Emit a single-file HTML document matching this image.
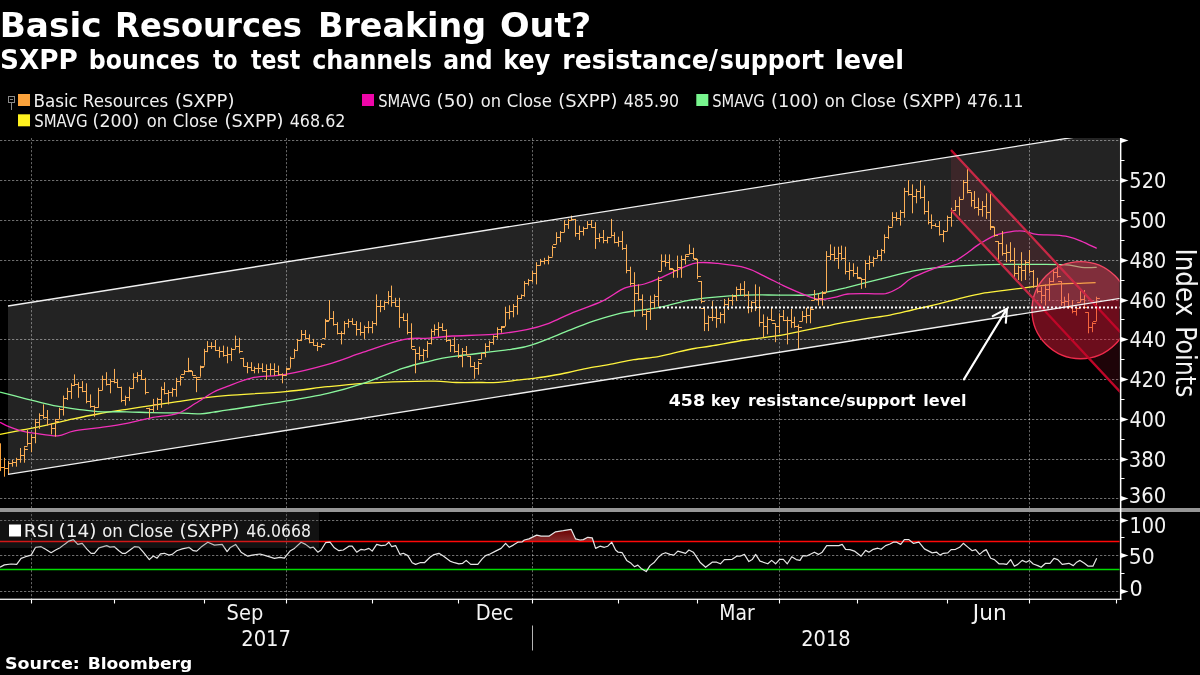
<!DOCTYPE html>
<html lang="en"><head><meta charset="utf-8"><title>Basic Resources Breaking Out?</title>
<style>html,body{margin:0;padding:0;background:#000;overflow:hidden}svg{display:block}</style></head>
<body>
<svg width="1200" height="675" viewBox="0 0 1200 675" style="display:block">
<rect width="1200" height="675" fill="#000"/>
<text y="36.8" font-size="34.3" font-weight="bold" fill="#fff"><tspan x="-0.28" textLength="101.79" lengthAdjust="spacingAndGlyphs" font-family="'DejaVu Sans','Liberation Sans',sans-serif">Basic</tspan> <tspan x="115.08" textLength="186.97" lengthAdjust="spacingAndGlyphs" font-family="'DejaVu Sans','Liberation Sans',sans-serif">Resources</tspan> <tspan x="318.00" textLength="168.11" lengthAdjust="spacingAndGlyphs" font-family="'DejaVu Sans','Liberation Sans',sans-serif">Breaking</tspan> <tspan x="499.97" textLength="91.28" lengthAdjust="spacingAndGlyphs" font-family="'DejaVu Sans','Liberation Sans',sans-serif">Out?</tspan></text>
<text y="68.9" font-size="26.6" font-weight="bold" fill="#fff"><tspan x="-0.04" textLength="77.83" lengthAdjust="spacingAndGlyphs" font-family="'DejaVu Sans','Liberation Sans',sans-serif">SXPP</tspan> <tspan x="88.75" textLength="111.18" lengthAdjust="spacingAndGlyphs" font-family="'DejaVu Sans Condensed','Liberation Sans',sans-serif">bounces</tspan> <tspan x="213.00" textLength="24.57" lengthAdjust="spacingAndGlyphs" font-family="'DejaVu Sans Condensed','Liberation Sans',sans-serif">to</tspan> <tspan x="251.00" textLength="49.20" lengthAdjust="spacingAndGlyphs" font-family="'DejaVu Sans Condensed','Liberation Sans',sans-serif">test</tspan> <tspan x="312.17" textLength="119.77" lengthAdjust="spacingAndGlyphs" font-family="'DejaVu Sans Condensed','Liberation Sans',sans-serif">channels</tspan> <tspan x="443.18" textLength="49.55" lengthAdjust="spacingAndGlyphs" font-family="'DejaVu Sans Condensed','Liberation Sans',sans-serif">and</tspan> <tspan x="503.34" textLength="46.88" lengthAdjust="spacingAndGlyphs" font-family="'DejaVu Sans Condensed','Liberation Sans',sans-serif">key</tspan> <tspan x="562.26" textLength="155.72" lengthAdjust="spacingAndGlyphs" font-family="'DejaVu Sans Condensed','Liberation Sans',sans-serif">resistance/</tspan><tspan x="719.78" textLength="104.44" lengthAdjust="spacingAndGlyphs" font-family="'DejaVu Sans Condensed','Liberation Sans',sans-serif">support</tspan> <tspan x="835.00" textLength="68.98" lengthAdjust="spacingAndGlyphs" font-family="'DejaVu Sans','Liberation Sans',sans-serif">level</tspan></text>
<g stroke="#8a8a8a" stroke-width="1" fill="none"><rect x="8.5" y="96.5" width="6" height="6"/><path d="M10,99.5H13M11.5,102.5V110"/></g>
<rect x="18" y="94" width="12" height="12" fill="#fba33c"/>
<rect x="362" y="94" width="12" height="12" fill="#ee06a8"/>
<rect x="696.3" y="94" width="12" height="12" fill="#78f58e"/>
<rect x="18" y="114.3" width="12" height="12" fill="#fff21f"/>
<text y="106.5" font-size="16.8" fill="#f0f0f0"><tspan x="33.43" textLength="44.41" lengthAdjust="spacingAndGlyphs" font-family="'DejaVu Sans','Liberation Sans',sans-serif">Basic</tspan> <tspan x="82.83" textLength="85.38" lengthAdjust="spacingAndGlyphs" font-family="'DejaVu Sans','Liberation Sans',sans-serif">Resources</tspan> <tspan x="175.00" textLength="59.40" lengthAdjust="spacingAndGlyphs" font-family="'DejaVu Sans','Liberation Sans',sans-serif">(SXPP)</tspan></text>
<text y="106.5" font-size="16.8" fill="#f0f0f0"><tspan x="378.23" textLength="52.55" lengthAdjust="spacingAndGlyphs" font-family="'DejaVu Sans Condensed','Liberation Sans',sans-serif">SMAVG</tspan> <tspan x="436.56" textLength="37.87" lengthAdjust="spacingAndGlyphs" font-family="'DejaVu Sans','Liberation Sans',sans-serif">(50)</tspan> <tspan x="480.83" textLength="20.33" lengthAdjust="spacingAndGlyphs" font-family="'DejaVu Sans','Liberation Sans',sans-serif">on</tspan> <tspan x="506.82" textLength="45.05" lengthAdjust="spacingAndGlyphs" font-family="'DejaVu Sans','Liberation Sans',sans-serif">Close</tspan> <tspan x="558.20" textLength="59.19" lengthAdjust="spacingAndGlyphs" font-family="'DejaVu Sans','Liberation Sans',sans-serif">(SXPP)</tspan> <tspan x="623.85" textLength="55.14" lengthAdjust="spacingAndGlyphs" font-family="'DejaVu Sans Condensed','Liberation Sans',sans-serif">485.90</tspan></text>
<text y="106.5" font-size="16.8" fill="#f0f0f0"><tspan x="712.23" textLength="52.55" lengthAdjust="spacingAndGlyphs" font-family="'DejaVu Sans Condensed','Liberation Sans',sans-serif">SMAVG</tspan> <tspan x="771.01" textLength="47.77" lengthAdjust="spacingAndGlyphs" font-family="'DejaVu Sans','Liberation Sans',sans-serif">(100)</tspan> <tspan x="824.83" textLength="20.33" lengthAdjust="spacingAndGlyphs" font-family="'DejaVu Sans','Liberation Sans',sans-serif">on</tspan> <tspan x="850.82" textLength="45.05" lengthAdjust="spacingAndGlyphs" font-family="'DejaVu Sans','Liberation Sans',sans-serif">Close</tspan> <tspan x="902.20" textLength="59.19" lengthAdjust="spacingAndGlyphs" font-family="'DejaVu Sans','Liberation Sans',sans-serif">(SXPP)</tspan> <tspan x="967.25" textLength="56.19" lengthAdjust="spacingAndGlyphs" font-family="'DejaVu Sans','Liberation Sans',sans-serif">476.11</tspan></text>
<text y="126.5" font-size="16.8" fill="#f0f0f0"><tspan x="34.22" textLength="53.38" lengthAdjust="spacingAndGlyphs" font-family="'DejaVu Sans Condensed','Liberation Sans',sans-serif">SMAVG</tspan> <tspan x="92.64" textLength="46.71" lengthAdjust="spacingAndGlyphs" font-family="'DejaVu Sans','Liberation Sans',sans-serif">(200)</tspan> <tspan x="146.83" textLength="20.33" lengthAdjust="spacingAndGlyphs" font-family="'DejaVu Sans','Liberation Sans',sans-serif">on</tspan> <tspan x="172.82" textLength="45.05" lengthAdjust="spacingAndGlyphs" font-family="'DejaVu Sans','Liberation Sans',sans-serif">Close</tspan> <tspan x="224.61" textLength="58.77" lengthAdjust="spacingAndGlyphs" font-family="'DejaVu Sans','Liberation Sans',sans-serif">(SXPP)</tspan> <tspan x="289.65" textLength="55.77" lengthAdjust="spacingAndGlyphs" font-family="'DejaVu Sans','Liberation Sans',sans-serif">468.62</tspan></text>
<clipPath id="cm"><rect x="0" y="138" width="1119.5" height="370"/></clipPath>
<g stroke="#fff" stroke-opacity="0.43" stroke-width="1" stroke-dasharray="2.3 1.7" fill="none">
<path d="M0,140.5H1120"/>
<path d="M0,180.5H1120"/>
<path d="M0,220.5H1120"/>
<path d="M0,260.5H1120"/>
<path d="M0,300.5H1120"/>
<path d="M0,339.5H1120"/>
<path d="M0,379.5H1120"/>
<path d="M0,419.5H1120"/>
<path d="M0,459.5H1120"/>
<path d="M0,498.5H1120"/>
<path d="M0,520.5H1120"/>
<path d="M0,555.5H1120"/>
<path d="M0,591.5H1120"/>
<path d="M31.5,138V599" stroke-opacity="0.38"/>
<path d="M286.5,138V599" stroke-opacity="0.38"/>
<path d="M532.5,138V599" stroke-opacity="0.38"/>
<path d="M779.5,138V599" stroke-opacity="0.38"/>
<path d="M1029.5,138V599" stroke-opacity="0.38"/>
</g>
<g clip-path="url(#cm)" fill="none">
<mask id="mb" maskUnits="userSpaceOnUse" x="900" y="100" width="300" height="450"><rect x="900" y="100" width="300" height="450" fill="#fff"/><circle cx="1080.6" cy="310.2" r="48.6" fill="#000"/></mask>
<path d="M951.0,150.0 L1200.0,417.8 L1200.0,477.8 L951.0,210.0Z" fill="#e01c3c" fill-opacity="0.135" mask="url(#mb)"/>
<path d="M0.0,434.4 C3.7,433.7 14.8,431.5 22.2,430.0 C29.6,428.5 35.9,427.4 44.4,425.6 C53.0,423.7 64.4,420.8 73.3,418.9 C82.2,417.0 88.9,415.6 97.8,414.0 C106.7,412.4 117.8,410.7 126.7,409.3 C135.6,407.9 142.6,406.9 151.1,405.6 C159.6,404.3 169.6,402.7 177.8,401.6 C185.9,400.4 191.6,399.5 200.0,398.4 C208.4,397.4 214.1,396.5 228.3,395.3 C242.6,394.2 269.0,393.0 285.6,391.6 C302.1,390.1 314.8,388.0 327.8,386.7 C340.7,385.3 350.7,384.2 363.3,383.3 C375.9,382.5 391.4,381.9 403.3,381.6 C415.3,381.2 426.2,381.1 435.0,381.2 C443.8,381.4 449.3,382.3 456.3,382.5 C463.4,382.7 470.3,382.6 477.3,382.5 C484.3,382.5 491.7,382.7 498.3,382.3 C504.9,381.9 511.2,380.9 517.0,380.2 C522.8,379.5 527.9,379.0 533.3,378.3 C538.8,377.6 543.8,377.0 549.7,376.0 C555.5,375.0 561.7,373.9 568.3,372.5 C574.9,371.1 581.9,369.3 589.3,367.8 C596.7,366.4 605.3,365.2 612.7,363.9 C620.0,362.5 626.3,360.8 633.7,359.7 C641.0,358.5 650.4,358.0 657.0,356.9 C663.6,355.8 667.1,354.5 673.3,353.1 C679.5,351.7 688.0,349.6 694.3,348.5 C700.6,347.3 702.4,347.5 710.9,346.0 C719.5,344.6 734.2,341.7 745.6,340.0 C756.9,338.3 769.6,337.0 778.9,335.6 C788.1,334.1 793.7,332.6 801.1,331.1 C808.5,329.6 815.9,328.1 823.3,326.7 C830.7,325.2 838.1,323.6 845.6,322.2 C853.0,320.9 860.4,319.6 867.8,318.4 C875.2,317.3 882.6,316.5 890.0,315.1 C897.4,313.7 905.6,311.5 912.2,310.0 C918.9,308.5 922.0,307.9 930.0,306.0 C938.0,304.1 951.3,300.6 960.0,298.4 C968.7,296.3 974.8,294.7 982.2,293.3 C989.6,292.0 995.9,291.6 1004.4,290.4 C1013.0,289.3 1024.1,287.8 1033.3,286.7 C1042.6,285.6 1052.2,284.3 1060.0,283.8 C1067.8,283.2 1074.1,283.5 1080.0,283.3 C1085.9,283.1 1093.0,282.8 1095.6,282.7" stroke="#fff21f" stroke-width="1.3" stroke-linejoin="round"/>
<path d="M0.0,392.2 C3.7,393.1 14.8,395.9 22.2,397.8 C29.6,399.6 38.1,401.9 44.4,403.3 C50.7,404.8 54.4,405.7 60.0,406.7 C65.6,407.7 71.5,408.5 77.8,409.3 C84.1,410.1 89.6,411.1 97.8,411.6 C105.9,412.0 117.8,411.6 126.7,411.8 C135.6,412.0 142.6,412.5 151.1,412.7 C159.6,412.9 169.6,412.7 177.8,412.9 C185.9,413.1 194.1,413.9 200.0,413.8 C205.9,413.7 208.6,412.9 213.3,412.2 C218.1,411.6 216.3,411.7 228.3,409.9 C240.4,408.0 269.0,403.9 285.6,401.1 C302.1,398.4 314.8,396.3 327.8,393.3 C340.7,390.4 350.7,387.5 363.3,383.3 C375.9,379.1 392.2,371.9 403.3,368.2 C414.4,364.5 421.9,363.0 430.0,361.1 C438.1,359.2 438.7,358.6 452.2,356.7 C465.7,354.7 497.6,351.4 511.1,349.3 C524.6,347.3 523.3,347.7 533.3,344.4 C543.3,341.1 561.1,333.4 571.1,329.6 C581.1,325.7 585.2,323.8 593.3,321.1 C601.5,318.4 611.5,315.3 620.0,313.3 C628.5,311.4 637.8,310.6 644.4,309.6 C651.1,308.6 653.1,308.8 660.0,307.3 C666.9,305.9 677.4,302.4 686.1,300.8 C694.8,299.1 702.3,298.3 712.2,297.3 C722.1,296.4 734.4,295.5 745.6,295.1 C756.7,294.7 768.5,295.1 778.9,295.1 C789.3,295.1 800.4,295.5 807.8,295.1 C815.2,294.7 817.0,293.9 823.3,292.7 C829.6,291.4 838.1,289.5 845.6,287.8 C853.0,286.0 860.4,284.1 867.8,282.2 C875.2,280.4 882.6,278.5 890.0,276.7 C897.4,274.8 904.8,272.6 912.2,271.1 C919.6,269.6 927.0,268.6 934.4,267.8 C941.9,267.0 949.3,266.7 956.7,266.2 C964.1,265.7 971.5,265.2 978.9,264.9 C986.3,264.6 993.0,264.5 1001.1,264.4 C1009.3,264.4 1017.4,264.4 1027.8,264.4 C1038.1,264.5 1053.9,264.1 1063.3,264.7 C1072.8,265.2 1078.9,267.1 1084.4,267.6 C1090.0,268.0 1094.6,267.4 1096.7,267.3" stroke="#78f58e" stroke-width="1.3" stroke-linejoin="round"/>
<path d="M0.0,422.2 C1.5,423.0 5.2,425.2 8.9,426.7 C12.6,428.1 17.8,430.0 22.2,431.1 C26.7,432.2 29.6,432.6 35.6,433.3 C41.5,434.1 51.5,436.1 57.8,435.8 C64.1,435.4 66.7,432.4 73.3,431.1 C80.0,429.8 88.9,429.1 97.8,427.8 C106.7,426.5 117.8,425.0 126.7,423.3 C135.6,421.7 142.6,419.4 151.1,417.8 C159.6,416.1 170.4,415.7 177.8,413.3 C185.2,410.9 189.6,406.9 195.6,403.3 C201.5,399.8 208.1,395.0 213.3,392.2 C218.5,389.4 220.2,389.1 226.7,386.7 C233.1,384.3 242.4,379.8 252.2,377.8 C262.0,375.7 273.0,376.7 285.6,374.4 C298.1,372.2 314.8,368.1 327.8,364.4 C340.7,360.7 350.7,356.4 363.3,352.2 C375.9,348.1 392.2,341.9 403.3,339.6 C414.4,337.2 421.9,338.8 430.0,338.2 C438.1,337.6 441.7,336.6 452.2,336.0 C462.8,335.4 480.9,335.5 493.3,334.4 C505.7,333.4 517.4,331.4 526.7,329.6 C535.9,327.7 541.5,326.0 548.9,323.3 C556.3,320.6 562.2,317.0 571.1,313.3 C580.0,309.6 593.3,305.3 602.2,301.1 C611.1,296.9 617.4,291.1 624.4,288.2 C631.5,285.4 638.5,285.7 644.4,284.0 C650.4,282.3 653.1,281.2 660.0,278.2 C666.9,275.2 679.6,268.7 686.1,266.1 C692.6,263.5 693.8,263.1 698.9,262.7 C704.0,262.2 708.9,262.5 716.7,263.3 C724.4,264.2 737.8,265.7 745.6,267.8 C753.3,269.8 757.0,272.6 763.3,275.6 C769.6,278.5 777.0,282.6 783.3,285.6 C789.6,288.5 795.2,291.0 801.1,293.3 C807.0,295.6 813.3,298.8 818.9,299.4 C824.4,300.1 829.6,298.2 834.4,297.3 C839.3,296.4 842.2,294.6 847.8,294.0 C853.3,293.4 861.5,293.6 867.8,293.6 C874.1,293.5 880.4,294.5 885.6,293.6 C890.7,292.6 894.4,290.4 898.9,287.8 C903.3,285.1 906.3,281.0 912.2,277.8 C918.1,274.6 927.0,271.4 934.4,268.4 C941.9,265.5 949.3,264.0 956.7,260.0 C964.1,256.0 972.6,248.5 978.9,244.4 C985.2,240.4 989.3,237.7 994.4,235.6 C999.6,233.4 1005.2,232.5 1010.0,231.8 C1014.8,231.0 1018.9,230.7 1023.3,231.1 C1027.8,231.6 1031.5,233.8 1036.7,234.4 C1041.9,235.1 1049.3,234.7 1054.4,235.1 C1059.6,235.5 1063.3,235.7 1067.8,236.7 C1072.2,237.7 1076.3,239.1 1081.1,241.1 C1085.9,243.1 1094.1,247.2 1096.7,248.4" stroke="#ef0fae" stroke-width="1.3" stroke-linejoin="round"/>
<path d="M0.5,443.3V471.1M-2.9,457.5H0.5M0.5,467.5H3.9M4.5,457.8V476.7M1.1,467.5H4.5M4.5,468.5H7.9M8.5,461.1V474.4M5.1,468.5H8.5M8.5,463.5H11.9M12.5,460.0V466.7M9.1,463.5H12.5M12.5,462.5H15.9M16.5,457.8V466.7M13.1,462.5H16.5M16.5,459.5H19.9M20.5,448.0V462.7M17.1,459.5H20.5M20.5,455.5H23.9M24.5,447.3V462.7M21.1,455.5H24.5M24.5,449.5H27.9M27.5,430.0V445.6M24.1,446.5H27.5M27.5,443.5H30.9M31.5,434.4V452.2M28.1,443.5H31.5M31.5,437.5H34.9M35.5,418.9V443.3M32.1,437.5H35.5M35.5,422.5H38.9M39.5,413.3V428.9M36.1,422.5H39.5M39.5,415.5H42.9M43.5,404.4V418.9M40.1,415.5H43.5M43.5,417.5H46.9M47.5,410.0V425.6M44.1,417.5H47.5M47.5,424.5H50.9M51.5,423.3V434.4M48.1,424.5H51.5M51.5,428.5H54.9M55.5,418.9V436.7M52.1,428.5H55.5M55.5,421.5H58.9M59.5,407.8V418.9M56.1,419.5H59.5M59.5,409.5H62.9M63.5,395.6V415.6M60.1,409.5H63.5M63.5,398.5H66.9M67.5,387.8V400.0M64.1,398.5H67.5M67.5,391.5H70.9M71.5,383.3V398.9M68.1,391.5H71.5M71.5,385.5H74.9M74.5,374.4V385.6M71.1,385.5H74.5M74.5,384.5H77.9M78.5,382.2V397.8M75.1,384.5H78.5M78.5,387.5H81.9M82.5,381.1V392.2M79.1,387.5H82.5M82.5,391.5H85.9M86.5,383.3V403.3M83.1,391.5H86.5M86.5,401.5H89.9M90.5,394.4V407.8M87.1,401.5H90.5M90.5,406.5H93.9M94.5,405.6V416.7M91.1,406.5H94.5M94.5,407.5H97.9M98.5,387.8V407.8M95.1,407.5H98.5M98.5,390.5H101.9M102.5,375.6V390.0M99.1,390.5H102.5M102.5,379.5H105.9M106.5,372.2V385.6M103.1,379.5H106.5M106.5,384.5H109.9M110.5,378.9V393.3M107.1,384.5H110.5M110.5,381.5H113.9M114.5,368.9V383.3M111.1,381.5H114.5M114.5,382.5H117.9M117.5,378.9V387.8M114.1,382.5H117.5M117.5,387.5H120.9M121.5,386.7V402.2M118.1,387.5H121.5M121.5,400.5H124.9M125.5,395.6V405.6M122.1,400.5H125.5M125.5,397.5H128.9M129.5,386.7V401.1M126.1,397.5H129.5M129.5,388.5H132.9M133.5,373.3V388.9M130.1,388.5H133.5M133.5,377.5H136.9M137.5,372.2V382.2M134.1,377.5H137.5M137.5,375.5H140.9M141.5,370.0V380.0M138.1,375.5H141.5M141.5,379.5H144.9M145.5,377.8V394.4M142.1,379.5H145.5M145.5,392.5H148.9M149.5,407.8V417.8M146.1,408.5H149.5M149.5,409.5H152.9M153.5,398.9V412.2M150.1,409.5H153.5M153.5,404.5H156.9M157.5,397.8V410.0M154.1,404.5H157.5M157.5,399.5H160.9M161.5,386.7V407.8M158.1,399.5H161.5M161.5,389.5H164.9M164.5,382.2V394.4M161.1,389.5H164.5M164.5,393.5H167.9M168.5,390.0V404.4M165.1,393.5H168.5M168.5,392.5H171.9M172.5,387.8V396.7M169.1,392.5H172.5M172.5,389.5H175.9M176.5,377.8V396.7M173.1,389.5H176.5M176.5,381.5H179.9M180.5,375.6V385.6M177.1,381.5H180.5M180.5,377.5H183.9M184.5,370.0V374.4M181.1,374.5H184.5M184.5,371.5H187.9M188.5,357.8V372.2M185.1,371.5H188.5M188.5,370.5H191.9M192.5,371.1V375.6M189.1,371.5H192.5M192.5,375.5H195.9M196.5,376.7V392.2M193.1,377.5H196.5M196.5,379.5H199.9M200.5,365.6V376.7M197.1,377.5H200.5M200.5,367.5H203.9M204.5,348.9V365.6M201.1,366.5H204.5M204.5,351.5H207.9M207.5,341.1V352.2M204.1,351.5H207.5M207.5,346.5H210.9M211.5,342.2V348.9M208.1,346.5H211.5M211.5,346.5H214.9M215.5,340.0V351.1M212.1,346.5H215.5M215.5,350.5H218.9M219.5,346.7V357.8M216.1,350.5H219.5M219.5,351.5H222.9M223.5,345.6V356.7M220.1,351.5H223.5M223.5,355.5H226.9M227.5,346.7V363.3M224.1,355.5H227.5M227.5,354.5H230.9M231.5,347.8V361.1M228.1,354.5H231.5M231.5,349.5H234.9M235.5,335.6V348.9M232.1,349.5H235.5M235.5,346.5H238.9M239.5,337.8V353.3M236.1,346.5H239.5M239.5,351.5H242.9M243.5,357.8V366.7M240.1,358.5H243.5M243.5,366.5H246.9M247.5,362.2V373.3M244.1,366.5H247.5M247.5,367.5H250.9M251.5,362.2V371.1M248.1,367.5H251.5M251.5,370.5H254.9M254.5,366.7V373.3M251.1,370.5H254.5M254.5,368.5H257.9M258.5,363.3V373.3M255.1,368.5H258.5M258.5,368.5H261.9M262.5,363.3V372.2M259.1,368.5H262.5M262.5,371.5H265.9M266.5,364.4V380.0M263.1,371.5H266.5M266.5,369.5H269.9M270.5,363.3V375.6M267.1,369.5H270.5M270.5,369.5H273.9M274.5,363.3V375.6M271.1,369.5H274.5M274.5,371.5H277.9M278.5,365.6V375.6M275.1,371.5H278.5M278.5,374.5H281.9M282.5,373.3V383.3M279.1,374.5H282.5M282.5,375.5H285.9M286.5,367.8V375.6M283.1,375.5H286.5M286.5,369.5H289.9M290.5,356.7V367.8M287.1,368.5H290.5M290.5,358.5H293.9M294.5,348.9V357.8M291.1,358.5H294.5M294.5,350.5H297.9M297.5,338.9V351.1M294.1,350.5H297.5M297.5,340.5H300.9M301.5,330.0V341.1M298.1,340.5H301.5M301.5,334.5H304.9M305.5,330.0V338.9M302.1,334.5H305.5M305.5,338.5H308.9M309.5,334.4V343.3M306.1,338.5H309.5M309.5,342.5H312.9M313.5,338.9V345.6M310.1,342.5H313.5M313.5,345.5H316.9M317.5,342.2V351.1M314.1,345.5H317.5M317.5,346.5H320.9M321.5,343.3V347.8M318.1,346.5H321.5M321.5,344.5H324.9M325.5,318.9V337.8M322.1,338.5H325.5M325.5,321.5H328.9M329.5,300.0V320.0M326.1,320.5H329.5M329.5,318.5H332.9M333.5,311.1V325.6M330.1,318.5H333.5M333.5,324.5H336.9M337.5,322.2V334.4M334.1,324.5H337.5M337.5,333.5H340.9M341.5,331.1V344.4M338.1,333.5H341.5M341.5,333.5H344.9M344.5,321.1V334.4M341.1,333.5H344.5M344.5,323.5H347.9M348.5,318.9V327.8M345.1,323.5H348.5M348.5,321.5H351.9M352.5,318.2V324.4M349.1,321.5H352.5M352.5,324.5H355.9M356.5,321.1V335.6M353.1,324.5H356.5M356.5,329.5H359.9M360.5,322.2V335.6M357.1,329.5H360.5M360.5,332.5H363.9M364.5,325.6V338.9M361.1,332.5H364.5M364.5,327.5H367.9M368.5,321.1V333.3M365.1,327.5H368.5M368.5,327.5H371.9M372.5,321.1V333.3M369.1,327.5H372.5M372.5,323.5H375.9M376.5,294.4V325.6M373.1,323.5H376.5M376.5,306.5H379.9M380.5,300.0V312.2M377.1,306.5H380.5M380.5,306.5H383.9M384.5,301.1V310.0M381.1,306.5H384.5M384.5,302.5H387.9M388.5,291.1V304.4M385.1,302.5H388.5M388.5,296.5H391.9M391.5,285.6V306.7M388.1,296.5H391.5M391.5,302.5H394.9M395.5,297.8V306.7M392.1,302.5H395.5M395.5,306.5H398.9M399.5,297.8V327.8M396.1,306.5H399.5M399.5,317.5H402.9M403.5,313.3V321.1M400.1,317.5H403.5M403.5,320.5H406.9M407.5,313.3V334.4M404.1,320.5H407.5M407.5,332.5H410.9M411.5,323.3V348.9M408.1,332.5H411.5M411.5,346.5H414.9M415.5,348.9V373.3M412.1,349.5H415.5M415.5,353.5H418.9M419.5,346.7V360.0M416.1,353.5H419.5M419.5,355.5H422.9M423.5,348.9V361.1M420.1,355.5H423.5M423.5,350.5H426.9M427.5,341.1V357.8M424.1,350.5H427.5M427.5,343.5H430.9M431.5,328.9V344.4M428.1,343.5H431.5M431.5,331.5H434.9M434.5,324.4V335.6M431.1,331.5H434.5M434.5,329.5H437.9M438.5,322.2V336.7M435.1,329.5H438.5M438.5,327.5H441.9M442.5,323.3V330.7M439.1,327.5H442.5M442.5,330.5H445.9M446.5,329.3V342.0M443.1,330.5H446.5M446.5,340.5H449.9M450.5,339.3V352.0M447.1,340.5H450.5M450.5,345.5H453.9M454.5,337.3V352.7M451.1,345.5H454.5M454.5,351.5H457.9M458.5,344.0V358.0M455.1,351.5H458.5M458.5,356.5H461.9M462.5,348.0V367.3M459.1,356.5H462.5M462.5,351.5H465.9M466.5,346.0V355.3M463.1,351.5H466.5M466.5,354.5H469.9M470.5,356.0V367.3M467.1,356.5H470.5M470.5,366.5H473.9M474.5,362.0V378.7M471.1,366.5H474.5M474.5,368.5H477.9M478.5,361.3V374.7M475.1,368.5H478.5M478.5,363.5H481.9M481.5,352.7V359.3M478.1,359.5H481.5M481.5,353.5H484.9M485.5,343.3V357.3M482.1,353.5H485.5M485.5,346.5H488.9M489.5,340.7V350.7M486.1,346.5H489.5M489.5,342.5H492.9M493.5,335.3V344.7M490.1,342.5H493.5M493.5,336.5H496.9M497.5,327.3V338.7M494.1,336.5H497.5M497.5,329.5H500.9M501.5,326.0V332.7M498.1,329.5H501.5M501.5,327.5H504.9M505.5,306.7V326.0M502.1,326.5H505.5M505.5,312.5H508.9M509.5,305.3V319.3M506.1,312.5H509.5M509.5,311.5H512.9M513.5,304.0V317.3M510.1,311.5H513.5M513.5,306.5H516.9M517.5,295.3V314.7M514.1,306.5H517.5M517.5,298.5H520.9M521.5,294.4V298.9M518.1,298.5H521.5M521.5,295.5H524.9M524.5,281.1V296.7M521.1,295.5H524.5M524.5,283.5H527.9M528.5,278.9V285.6M525.1,283.5H528.5M528.5,280.5H531.9M532.5,271.1V282.2M529.1,280.5H532.5M532.5,273.5H535.9M536.5,262.2V284.4M533.1,273.5H536.5M536.5,265.5H539.9M540.5,258.9V265.6M537.1,265.5H540.5M540.5,261.5H543.9M544.5,257.8V264.4M541.1,261.5H544.5M544.5,260.5H547.9M548.5,255.6V264.4M545.1,260.5H548.5M548.5,257.5H551.9M552.5,245.6V256.7M549.1,257.5H552.5M552.5,247.5H555.9M556.5,232.2V244.4M553.1,244.5H556.5M556.5,237.5H559.9M560.5,231.1V242.2M557.1,237.5H560.5M560.5,232.5H563.9M564.5,220.0V232.2M561.1,232.5H564.5M564.5,224.5H567.9M568.5,218.9V228.9M565.1,224.5H568.5M568.5,220.5H571.9M571.5,215.6V220.0M568.1,220.5H571.5M571.5,219.5H574.9M575.5,218.9V236.7M572.1,219.5H575.5M575.5,233.5H578.9M579.5,225.6V240.0M576.1,233.5H579.5M579.5,231.5H582.9M583.5,226.7V235.6M580.1,231.5H583.5M583.5,228.5H586.9M587.5,221.1V228.9M584.1,228.5H587.5M587.5,224.5H590.9M591.5,220.0V227.8M588.1,224.5H591.5M591.5,227.5H594.9M595.5,222.2V248.9M592.1,227.5H595.5M595.5,238.5H598.9M599.5,233.3V242.2M596.1,238.5H599.5M599.5,237.5H602.9M603.5,230.0V243.3M600.1,237.5H603.5M603.5,240.5H606.9M607.5,236.7V243.3M604.1,240.5H607.5M607.5,237.5H610.9M611.5,218.9V236.7M608.1,237.5H611.5M611.5,235.5H614.9M614.5,232.2V243.3M611.1,235.5H614.5M614.5,242.5H617.9M618.5,236.7V246.7M615.1,242.5H618.5M618.5,241.5H621.9M622.5,231.1V250.0M619.1,241.5H622.5M622.5,248.5H625.9M626.5,244.4V273.3M623.1,248.5H626.5M626.5,270.5H629.9M630.5,266.7V285.6M627.1,270.5H630.5M630.5,283.5H633.9M634.5,272.2V316.7M631.1,283.5H634.5M634.5,293.5H637.9M638.5,284.4V301.1M635.1,293.5H638.5M638.5,299.5H641.9M642.5,294.4V316.7M639.1,299.5H642.5M642.5,314.5H645.9M646.5,308.9V330.0M643.1,314.5H646.5M646.5,311.5H649.9M650.5,295.6V320.0M647.1,311.5H650.5M650.5,302.5H653.9M654.5,294.4V308.9M651.1,302.5H654.5M654.5,296.5H657.9M658.5,276.7V306.7M655.1,296.5H658.5M658.5,280.5H661.9M661.5,254.4V271.1M658.1,271.5H661.5M661.5,261.5H664.9M665.5,254.4V266.7M662.1,261.5H665.5M665.5,262.5H668.9M669.5,254.4V270.0M666.1,262.5H669.5M669.5,268.5H672.9M673.5,268.9V277.8M670.1,269.5H673.5M673.5,270.5H676.9M677.5,255.6V277.8M674.1,270.5H677.5M677.5,267.5H680.9M681.5,255.6V277.8M678.1,267.5H681.5M681.5,259.5H684.9M685.5,254.4V264.4M682.1,259.5H685.5M685.5,256.5H688.9M689.5,244.4V254.4M686.1,254.5H689.5M689.5,253.5H692.9M693.5,247.8V258.9M690.1,253.5H693.5M693.5,258.5H696.9M697.5,258.9V278.9M694.1,259.5H697.5M697.5,276.5H700.9M701.5,281.1V303.3M698.1,281.5H701.5M701.5,301.5H704.9M704.5,307.8V331.1M701.1,308.5H704.5M704.5,323.5H707.9M708.5,315.6V331.1M705.1,323.5H708.5M708.5,317.5H711.9M712.5,301.1V321.1M709.1,317.5H712.5M712.5,317.5H715.9M716.5,306.7V327.8M713.1,317.5H716.5M716.5,318.5H719.9M720.5,312.2V323.3M717.1,318.5H720.5M720.5,314.5H723.9M724.5,298.9V323.3M721.1,314.5H724.5M724.5,304.5H727.9M728.5,297.8V310.0M725.1,304.5H728.5M728.5,300.5H731.9M732.5,294.4V305.6M729.1,300.5H732.5M732.5,296.5H735.9M736.5,286.7V301.1M733.1,296.5H736.5M736.5,289.5H739.9M740.5,283.3V295.6M737.1,289.5H740.5M740.5,289.5H743.9M744.5,281.1V296.7M741.1,289.5H744.5M744.5,295.5H747.9M748.5,291.1V313.3M745.1,295.5H748.5M748.5,307.5H751.9M751.5,301.1V312.2M748.1,307.5H751.5M751.5,302.5H754.9M755.5,284.4V311.1M752.1,302.5H755.5M755.5,307.5H758.9M759.5,286.7V326.7M756.1,307.5H759.5M759.5,322.5H762.9M763.5,314.4V337.8M760.1,322.5H763.5M763.5,326.5H766.9M767.5,316.7V334.4M764.1,326.5H767.5M767.5,319.5H770.9M771.5,307.8V321.1M768.1,319.5H771.5M771.5,320.5H774.9M775.5,323.3V342.2M772.1,323.5H775.5M775.5,326.5H778.9M779.5,313.3V333.3M776.1,326.5H779.5M779.5,316.5H782.9M783.5,310.0V321.1M780.1,316.5H783.5M783.5,320.5H786.9M787.5,316.7V344.4M784.1,320.5H787.5M787.5,320.5H790.9M791.5,308.9V327.8M788.1,320.5H791.5M791.5,322.5H794.9M794.5,316.7V327.8M791.1,322.5H794.5M794.5,326.5H797.9M798.5,324.4V348.9M795.1,326.5H798.5M798.5,327.5H801.9M802.5,311.1V321.1M799.1,321.5H802.5M802.5,316.5H805.9M806.5,307.8V323.3M803.1,316.5H806.5M806.5,315.5H809.9M810.5,306.7V323.3M807.1,315.5H810.5M810.5,309.5H813.9M814.5,290.0V300.0M811.1,300.5H814.5M814.5,299.5H817.9M818.5,293.3V305.6M815.1,299.5H818.5M818.5,298.5H821.9M822.5,291.1V305.6M819.1,298.5H822.5M822.5,293.5H825.9M826.5,251.1V292.2M823.1,292.5H826.5M826.5,256.5H829.9M830.5,244.4V260.0M827.1,256.5H830.5M830.5,254.5H833.9M834.5,246.7V261.1M831.1,254.5H834.5M834.5,258.5H837.9M838.5,246.7V268.9M835.1,258.5H838.5M838.5,253.5H841.9M841.5,245.6V260.0M838.1,253.5H841.5M841.5,258.5H844.9M845.5,246.7V274.4M842.1,258.5H845.5M845.5,271.5H848.9M849.5,262.2V280.0M846.1,271.5H849.5M849.5,270.5H852.9M853.5,263.3V276.7M850.1,270.5H853.5M853.5,273.5H856.9M857.5,266.7V278.9M854.1,273.5H857.5M857.5,277.5H860.9M861.5,277.8V288.9M858.1,278.5H861.5M861.5,279.5H864.9M865.5,260.0V287.8M862.1,279.5H865.5M865.5,263.5H868.9M869.5,255.6V270.0M866.1,263.5H869.5M869.5,262.5H872.9M873.5,256.7V266.7M870.1,262.5H873.5M873.5,258.5H876.9M877.5,250.0V257.8M874.1,258.5H877.5M877.5,255.5H880.9M881.5,248.9V261.1M878.1,255.5H881.5M881.5,250.5H884.9M884.5,234.4V253.3M881.1,250.5H884.5M884.5,237.5H887.9M888.5,225.6V238.9M885.1,237.5H888.5M888.5,227.5H891.9M892.5,212.2V226.7M889.1,227.5H892.5M892.5,217.5H895.9M896.5,212.2V221.1M893.1,217.5H896.5M896.5,218.5H899.9M900.5,210.0V225.6M897.1,218.5H900.5M900.5,212.5H903.9M904.5,187.8V217.8M901.1,212.5H904.5M904.5,191.5H907.9M908.5,180.0V195.6M905.1,191.5H908.5M908.5,194.5H911.9M912.5,184.4V213.3M909.1,194.5H912.5M912.5,196.5H915.9M916.5,188.9V203.3M913.1,196.5H916.5M916.5,191.5H919.9M920.5,180.0V198.9M917.1,191.5H920.5M920.5,197.5H923.9M924.5,185.6V214.4M921.1,197.5H924.5M924.5,211.5H927.9M928.5,201.1V224.4M925.1,211.5H928.5M928.5,222.5H931.9M931.5,214.4V228.9M928.1,222.5H931.5M931.5,225.5H934.9M935.5,223.3V226.7M932.1,225.5H935.5M935.5,226.5H938.9M939.5,221.1V235.6M936.1,226.5H939.5M939.5,234.5H942.9M943.5,230.0V242.2M940.1,234.5H943.5M943.5,231.5H946.9M947.5,215.6V231.1M944.1,231.5H947.5M947.5,217.5H950.9M951.5,207.8V226.7M948.1,217.5H951.5M951.5,210.5H954.9M955.5,200.0V211.1M952.1,210.5H955.5M955.5,206.5H958.9M959.5,196.7V215.6M956.1,206.5H959.5M959.5,199.5H962.9M963.5,180.0V198.9M960.1,199.5H963.5M963.5,182.5H966.9M967.5,168.9V193.3M964.1,182.5H967.5M967.5,190.5H970.9M971.5,192.2V206.7M968.1,192.5H971.5M971.5,200.5H974.9M974.5,191.1V208.9M971.1,200.5H974.5M974.5,207.5H977.9M978.5,197.8V215.6M975.1,207.5H978.5M978.5,209.5H981.9M982.5,201.1V216.7M979.1,209.5H982.5M982.5,206.5H985.9M986.5,193.3V218.9M983.1,206.5H986.5M986.5,212.5H989.9M990.5,193.3V230.0M987.1,212.5H990.5M990.5,226.5H993.9M994.5,226.7V236.7M991.1,227.5H994.5M994.5,235.5H997.9M998.5,241.1V260.0M995.1,241.5H998.5M998.5,243.5H1001.9M1002.5,231.1V255.6M999.1,243.5H1002.5M1002.5,253.5H1005.9M1006.5,244.4V262.2M1003.1,253.5H1006.5M1006.5,252.5H1009.9M1010.5,242.2V262.2M1007.1,252.5H1010.5M1010.5,260.5H1013.9M1014.5,247.8V278.9M1011.1,260.5H1014.5M1014.5,273.5H1017.9M1018.5,265.6V280.0M1015.1,273.5H1018.5M1018.5,267.5H1021.9M1021.5,252.2V281.1M1018.1,267.5H1021.5M1021.5,270.5H1024.9M1025.5,260.0V280.0M1022.1,270.5H1025.5M1025.5,262.5H1028.9M1029.5,250.0V273.3M1026.1,262.5H1029.5M1029.5,271.5H1032.9M1033.5,270.0V287.8M1030.1,271.5H1033.5M1033.5,286.5H1036.9M1037.5,277.8V293.3M1034.1,286.5H1037.5M1037.5,291.5H1040.9M1041.5,286.7V303.3M1038.1,291.5H1041.5M1041.5,295.5H1044.9M1045.5,284.4V305.6M1042.1,295.5H1045.5M1045.5,289.5H1048.9M1049.5,277.8V301.1M1046.1,289.5H1049.5M1049.5,281.5H1052.9M1053.5,268.9V282.2M1050.1,281.5H1053.5M1053.5,272.5H1056.9M1057.5,265.6V277.8M1054.1,272.5H1057.5M1057.5,276.5H1060.9M1061.5,281.1V305.6M1058.1,281.5H1061.5M1061.5,302.5H1064.9M1064.5,296.7V306.7M1061.1,302.5H1064.5M1064.5,301.5H1067.9M1068.5,293.3V308.9M1065.1,301.5H1068.5M1068.5,307.5H1071.9M1072.5,300.0V313.3M1069.1,307.5H1072.5M1072.5,311.5H1075.9M1076.5,306.7V315.6M1073.1,311.5H1076.5M1076.5,308.5H1079.9M1080.5,291.1V302.2M1077.1,302.5H1080.5M1080.5,299.5H1083.9M1084.5,290.0V308.9M1081.1,299.5H1084.5M1084.5,307.5H1087.9M1088.5,312.2V333.3M1085.1,312.5H1088.5M1088.5,327.5H1091.9M1092.5,322.2V332.2M1089.1,327.5H1092.5M1092.5,323.5H1095.9M1096.5,296.7V321.1M1093.1,321.5H1096.5M1096.5,298.5H1099.9" stroke="#fba33c" stroke-width="1"/>
<circle cx="1080.6" cy="310.2" r="48.6" fill="#f01d3e" fill-opacity="0.45" stroke="#ee2a4a" stroke-width="1.4"/>
<path d="M951,150.0L1200,417.8M951,210.0L1200,477.8" stroke="#bf0628" stroke-width="2.3"/>
<path d="M8.0,306.0 L1200.0,117.3 L1200.0,285.7 L8.0,474.4Z" fill="#fff" fill-opacity="0.137" stroke="none"/>
<path d="M8,306.0L1200,117.3M8,474.4L1200,285.7" stroke="#f0f0f0" stroke-width="1.35"/>
<path d="M659,307.5H1120" stroke="#fff" stroke-width="2.1" stroke-dasharray="2 2"/>
<path d="M963.9,379.4L1006.8,308.9M992.7,316.1L1007,308.6L1005.8,322.8" stroke="#fff" stroke-width="2.1" stroke-linecap="round" stroke-linejoin="round"/>
</g>
<text y="405.9" font-size="16.5" font-weight="bold" fill="#fff"><tspan x="668.76" textLength="36.20" lengthAdjust="spacingAndGlyphs" font-family="'DejaVu Sans','Liberation Sans',sans-serif">458</tspan> <tspan x="710.97" textLength="29.17" lengthAdjust="spacingAndGlyphs" font-family="'DejaVu Sans Condensed','Liberation Sans',sans-serif">key</tspan> <tspan x="748.07" textLength="167.58" lengthAdjust="spacingAndGlyphs" font-family="'DejaVu Sans','Liberation Sans',sans-serif">resistance/support</tspan> <tspan x="923.24" textLength="43.30" lengthAdjust="spacingAndGlyphs" font-family="'DejaVu Sans','Liberation Sans',sans-serif">level</tspan></text>
<rect x="0" y="508" width="1200" height="4" fill="#969696"/>
<clipPath id="cr"><rect x="0" y="512.3" width="1119.5" height="87"/></clipPath>
<g clip-path="url(#cr)" fill="none">
<clipPath id="c70"><rect x="500" y="512" width="110" height="29.5"/></clipPath>
<linearGradient id="g70" x1="0" y1="0" x2="0" y2="1"><stop offset="0" stop-color="#6c0000"/><stop offset="1" stop-color="#8c4646"/></linearGradient>
<path clip-path="url(#c70)" d="M501.1,541.5 L501.1,548.4 L505.6,543.3 L509.3,547.3 L513.3,545.1 L517.8,542.2 L522.2,541.8 L524.4,540.0 L528.9,538.9 L536.7,535.1 L541.1,536.2 L548.9,536.2 L555.6,531.8 L563.3,530.7 L571.1,529.3 L575.6,538.9 L580.0,540.0 L583.3,539.6 L587.8,537.3 L592.2,537.8 L595.6,548.4 L600.0,546.2 L604.4,547.3 L607.8,546.2 L607.8,541.5Z" fill="url(#g70)"/>
<path d="M0,541.5H1120" stroke="#ff0808" stroke-width="1.3"/>
<path d="M0,569.5H1120" stroke="#00dc00" stroke-width="1.4"/>
<path d="M0.0,567.3 L4.4,564.9 L11.1,564.0 L16.7,564.4 L21.1,558.4 L25.6,556.7 L31.1,555.1 L35.6,547.3 L41.1,546.7 L45.6,549.3 L51.1,552.7 L55.6,550.0 L60.0,547.8 L64.4,544.4 L68.9,541.1 L73.3,539.6 L77.8,544.4 L82.2,543.3 L86.7,548.9 L91.1,553.3 L94.4,553.3 L98.9,547.8 L106.7,545.6 L110.0,547.1 L114.4,546.7 L118.9,550.7 L122.2,553.3 L125.6,553.3 L130.0,550.0 L134.4,546.7 L138.9,547.1 L143.3,552.2 L149.3,559.6 L153.3,556.0 L157.1,558.2 L160.4,553.8 L164.4,553.3 L168.9,555.1 L172.2,554.4 L176.7,550.7 L182.2,548.9 L188.9,547.3 L193.3,550.7 L196.7,551.1 L201.1,547.1 L207.8,542.2 L214.4,545.1 L222.2,544.4 L227.1,551.6 L230.0,547.8 L235.6,544.4 L241.1,552.2 L247.8,556.2 L252.2,555.1 L260.0,554.0 L265.6,555.6 L274.4,558.4 L280.0,557.3 L284.4,558.2 L290.0,551.1 L294.4,548.4 L301.1,542.2 L305.6,544.4 L310.0,547.8 L313.3,547.1 L317.8,552.2 L321.1,550.0 L325.6,542.7 L330.0,542.2 L334.4,547.8 L338.9,550.7 L343.3,550.0 L348.9,546.2 L352.2,546.2 L356.7,552.2 L361.1,549.3 L364.4,550.0 L368.9,548.4 L372.2,551.1 L376.7,544.4 L381.1,545.6 L385.6,545.1 L388.9,542.2 L391.8,546.7 L395.6,545.6 L400.0,554.4 L403.3,553.3 L407.8,555.6 L412.2,562.7 L415.6,564.4 L420.0,562.7 L424.4,562.7 L430.0,557.3 L433.3,554.9 L438.9,553.3 L443.3,556.0 L450.0,561.1 L454.4,562.7 L458.9,563.8 L462.7,563.3 L466.2,560.4 L470.7,564.4 L477.8,564.4 L482.2,558.9 L485.6,555.6 L490.0,554.0 L495.6,551.1 L501.1,548.4 L505.6,543.3 L509.3,547.3 L513.3,545.1 L517.8,542.2 L522.2,541.8 L524.4,540.0 L528.9,538.9 L536.7,535.1 L541.1,536.2 L548.9,536.2 L555.6,531.8 L563.3,530.7 L571.1,529.3 L575.6,538.9 L580.0,540.0 L583.3,539.6 L587.8,537.3 L592.2,537.8 L595.6,548.4 L600.0,546.2 L604.4,547.3 L607.8,546.2 L611.8,542.2 L615.6,550.0 L618.2,552.2 L622.2,552.7 L626.7,560.4 L631.1,563.3 L634.4,566.7 L637.8,565.1 L641.1,568.4 L646.2,571.6 L650.0,565.6 L654.4,562.2 L658.9,556.7 L662.2,554.0 L665.6,552.7 L670.0,554.4 L673.8,555.1 L677.8,551.1 L685.6,553.3 L688.9,550.0 L693.3,552.2 L700.0,562.2 L705.6,567.3 L712.2,562.2 L716.7,562.2 L720.4,563.8 L724.4,559.6 L732.2,559.3 L736.7,556.2 L740.0,556.2 L744.4,554.4 L748.9,561.6 L752.2,559.6 L755.6,554.4 L760.0,561.1 L767.8,563.8 L771.6,560.4 L775.6,563.8 L779.6,559.3 L783.3,559.3 L787.3,563.8 L791.8,556.7 L796.2,559.6 L800.0,560.4 L802.9,555.6 L806.7,556.0 L814.4,552.2 L818.4,554.4 L822.2,552.2 L826.7,545.6 L838.9,545.6 L842.2,544.4 L845.6,549.3 L850.0,549.6 L854.4,551.1 L861.1,556.2 L865.6,550.4 L868.9,552.2 L873.3,549.3 L877.8,548.2 L881.1,549.3 L885.6,545.6 L890.0,544.0 L893.3,542.2 L896.7,542.2 L900.7,544.4 L904.4,539.6 L908.9,539.6 L913.3,543.3 L918.9,542.2 L924.4,548.9 L932.2,552.9 L936.7,552.2 L940.0,555.1 L943.3,553.3 L947.8,552.9 L951.1,549.6 L955.6,549.3 L959.6,547.3 L963.3,543.3 L967.8,547.1 L972.2,550.7 L975.6,549.6 L979.6,554.4 L983.3,551.1 L986.2,549.6 L990.7,558.2 L994.4,559.6 L998.9,563.8 L1003.3,563.8 L1006.7,564.4 L1010.7,559.6 L1014.4,566.2 L1017.8,564.4 L1022.2,560.4 L1026.2,562.2 L1029.3,560.4 L1033.3,564.0 L1037.8,565.6 L1041.1,567.3 L1045.6,563.3 L1050.0,563.3 L1054.0,558.4 L1057.8,559.6 L1062.2,564.4 L1065.6,563.8 L1068.9,563.3 L1073.3,565.6 L1076.7,562.2 L1080.0,560.4 L1084.4,563.3 L1088.2,566.2 L1092.9,566.2 L1096.7,558.2" stroke="#e6e6e6" stroke-width="1.2" stroke-linejoin="round"/>
</g>
<rect x="0" y="512" width="319" height="36" fill="#464646" fill-opacity="0.25"/>
<rect x="9" y="524.5" width="12" height="12" fill="#fff"/>
<text y="536.5" font-size="16.8" fill="#f0f0f0"><tspan x="23.85" textLength="30.26" lengthAdjust="spacingAndGlyphs" font-family="'DejaVu Sans','Liberation Sans',sans-serif">RSI</tspan> <tspan x="58.56" textLength="37.87" lengthAdjust="spacingAndGlyphs" font-family="'DejaVu Sans','Liberation Sans',sans-serif">(14)</tspan> <tspan x="102.23" textLength="20.55" lengthAdjust="spacingAndGlyphs" font-family="'DejaVu Sans','Liberation Sans',sans-serif">on</tspan> <tspan x="128.22" textLength="45.05" lengthAdjust="spacingAndGlyphs" font-family="'DejaVu Sans','Liberation Sans',sans-serif">Close</tspan> <tspan x="179.59" textLength="59.82" lengthAdjust="spacingAndGlyphs" font-family="'DejaVu Sans','Liberation Sans',sans-serif">(SXPP)</tspan> <tspan x="246.16" textLength="64.83" lengthAdjust="spacingAndGlyphs" font-family="'DejaVu Sans Condensed','Liberation Sans',sans-serif">46.0668</tspan></text>
<rect x="1119.9" y="138" width="1.5" height="461.7" fill="#fff"/>
<rect x="0" y="598.65" width="1121.4" height="1.25" fill="#fff"/>
<path d="M1121,138.0L1128.5,140.5L1121,143.0Z" fill="#fff"/>
<path d="M1121,178.0L1128.5,180.5L1121,183.0Z" fill="#fff"/>
<text y="188.4" font-size="22" fill="#f4f4f4"><tspan x="1129.35" textLength="36.97" lengthAdjust="spacingAndGlyphs" font-family="'DejaVu Sans Condensed','Liberation Sans',sans-serif">520</tspan></text>
<path d="M1121,218.0L1128.5,220.5L1121,223.0Z" fill="#fff"/>
<text y="228.4" font-size="22" fill="#f4f4f4"><tspan x="1129.35" textLength="36.97" lengthAdjust="spacingAndGlyphs" font-family="'DejaVu Sans Condensed','Liberation Sans',sans-serif">500</tspan></text>
<path d="M1121,258.0L1128.5,260.5L1121,263.0Z" fill="#fff"/>
<text y="268.4" font-size="22" fill="#f4f4f4"><tspan x="1129.53" textLength="36.57" lengthAdjust="spacingAndGlyphs" font-family="'DejaVu Sans Condensed','Liberation Sans',sans-serif">480</tspan></text>
<path d="M1121,298.0L1128.5,300.5L1121,303.0Z" fill="#fff"/>
<text y="308.4" font-size="22" fill="#f4f4f4"><tspan x="1129.53" textLength="36.57" lengthAdjust="spacingAndGlyphs" font-family="'DejaVu Sans Condensed','Liberation Sans',sans-serif">460</tspan></text>
<path d="M1121,337.0L1128.5,339.5L1121,342.0Z" fill="#fff"/>
<text y="347.4" font-size="22" fill="#f4f4f4"><tspan x="1129.53" textLength="36.57" lengthAdjust="spacingAndGlyphs" font-family="'DejaVu Sans Condensed','Liberation Sans',sans-serif">440</tspan></text>
<path d="M1121,377.0L1128.5,379.5L1121,382.0Z" fill="#fff"/>
<text y="387.4" font-size="22" fill="#f4f4f4"><tspan x="1129.53" textLength="36.57" lengthAdjust="spacingAndGlyphs" font-family="'DejaVu Sans Condensed','Liberation Sans',sans-serif">420</tspan></text>
<path d="M1121,417.0L1128.5,419.5L1121,422.0Z" fill="#fff"/>
<text y="427.4" font-size="22" fill="#f4f4f4"><tspan x="1129.53" textLength="36.57" lengthAdjust="spacingAndGlyphs" font-family="'DejaVu Sans Condensed','Liberation Sans',sans-serif">400</tspan></text>
<path d="M1121,457.0L1128.5,459.5L1121,462.0Z" fill="#fff"/>
<text y="467.4" font-size="22" fill="#f4f4f4"><tspan x="1128.84" textLength="37.40" lengthAdjust="spacingAndGlyphs" font-family="'DejaVu Sans Condensed','Liberation Sans',sans-serif">380</tspan></text>
<path d="M1121,496.0L1128.5,498.5L1121,501.0Z" fill="#fff"/>
<text y="502.8" font-size="22" fill="#f4f4f4"><tspan x="1128.84" textLength="37.40" lengthAdjust="spacingAndGlyphs" font-family="'DejaVu Sans Condensed','Liberation Sans',sans-serif">360</tspan></text>
<path d="M1121,160.5H1124.5M1121,200.5H1124.5M1121,240.5H1124.5M1121,280.5H1124.5M1121,319.5H1124.5M1121,359.5H1124.5M1121,399.5H1124.5M1121,439.5H1124.5M1121,478.5H1124.5" stroke="#fff" stroke-width="1.1"/>
<path d="M1121,518.0L1128.5,520.5L1121,523.0Z" fill="#fff"/>
<path d="M1121,553.0L1128.5,555.5L1121,558.0Z" fill="#fff"/>
<path d="M1121,589.0L1128.5,591.5L1121,594.0Z" fill="#fff"/>
<path d="M1121,537.5H1124.5M1121,573.5H1124.5" stroke="#fff" stroke-width="1.1"/>
<text y="533.0" font-size="22" fill="#f4f4f4"><tspan x="1129.39" textLength="36.83" lengthAdjust="spacingAndGlyphs" font-family="'DejaVu Sans Condensed','Liberation Sans',sans-serif">100</tspan></text>
<text y="563.8" font-size="22" fill="#f4f4f4"><tspan x="1128.79" textLength="25.90" lengthAdjust="spacingAndGlyphs" font-family="'DejaVu Sans Condensed','Liberation Sans',sans-serif">50</tspan></text>
<text y="595.5" font-size="22" fill="#f4f4f4"><tspan x="1129.62" textLength="13.18" lengthAdjust="spacingAndGlyphs" font-family="'DejaVu Sans Condensed','Liberation Sans',sans-serif">0</tspan></text>
<text y="-1176" font-size="28" fill="#f4f4f4" transform="rotate(90)"><tspan x="248.47" textLength="67.59" lengthAdjust="spacingAndGlyphs" font-family="'DejaVu Sans Condensed','Liberation Sans',sans-serif">Index</tspan> <tspan x="326.13" textLength="71.39" lengthAdjust="spacingAndGlyphs" font-family="'DejaVu Sans Condensed','Liberation Sans',sans-serif">Points</tspan></text>
<path d="M31.5,599.5V603.6M114.5,599.5V603.6M204.5,599.5V603.6M286.5,599.5V603.6M372.5,599.5V603.6M458.5,599.5V603.6M532.5,599.5V603.6M618.5,599.5V603.6M697.5,599.5V603.6M779.5,599.5V603.6M857.5,599.5V603.6M947.5,599.5V603.6M1029.5,599.5V603.6M1116.5,599.5V603.6" stroke="#fff" stroke-width="1.1"/>
<text y="620.4" font-size="21.2" fill="#f4f4f4"><tspan x="226.59" textLength="36.68" lengthAdjust="spacingAndGlyphs" font-family="'DejaVu Sans Condensed','Liberation Sans',sans-serif">Sep</tspan></text>
<text y="620.4" font-size="21.2" fill="#f4f4f4"><tspan x="475.81" textLength="37.69" lengthAdjust="spacingAndGlyphs" font-family="'DejaVu Sans Condensed','Liberation Sans',sans-serif">Dec</tspan></text>
<text y="620.4" font-size="21.2" fill="#f4f4f4"><tspan x="719.37" textLength="35.42" lengthAdjust="spacingAndGlyphs" font-family="'DejaVu Sans Condensed','Liberation Sans',sans-serif">Mar</tspan></text>
<text y="620.4" font-size="21.2" fill="#f4f4f4"><tspan x="972.85" textLength="33.79" lengthAdjust="spacingAndGlyphs" font-family="'DejaVu Sans','Liberation Sans',sans-serif">Jun</tspan></text>
<text y="645.6" font-size="21.2" fill="#f4f4f4"><tspan x="241.24" textLength="49.73" lengthAdjust="spacingAndGlyphs" font-family="'DejaVu Sans Condensed','Liberation Sans',sans-serif">2017</tspan></text>
<text y="645.6" font-size="21.2" fill="#f4f4f4"><tspan x="801.25" textLength="49.37" lengthAdjust="spacingAndGlyphs" font-family="'DejaVu Sans Condensed','Liberation Sans',sans-serif">2018</tspan></text>
<path d="M532.5,625.5V650.5" stroke="#b4b4b4" stroke-width="1"/>
<text y="669.4" font-size="16.5" font-weight="bold" fill="#fff"><tspan x="4.91" textLength="74.89" lengthAdjust="spacingAndGlyphs" font-family="'DejaVu Sans','Liberation Sans',sans-serif">Source:</tspan> <tspan x="87.67" textLength="104.62" lengthAdjust="spacingAndGlyphs" font-family="'DejaVu Sans','Liberation Sans',sans-serif">Bloomberg</tspan></text>
</svg>
</body></html>
